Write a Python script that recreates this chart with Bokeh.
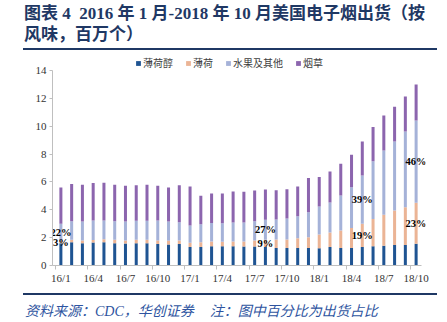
from bokeh.plotting import figure
from bokeh.models import ColumnDataSource, FixedTicker, Div
from bokeh.layouts import column
from bokeh.core.properties import value
from bokeh.embed import file_html
from bokeh.resources import INLINE

months = ["16/1", "16/2", "16/3", "16/4", "16/5", "16/6", "16/7", "16/8", "16/9", "16/10", "16/11", "16/12",
          "17/1", "17/2", "17/3", "17/4", "17/5", "17/6", "17/7", "17/8", "17/9", "17/10", "17/11", "17/12",
          "18/1", "18/2", "18/3", "18/4", "18/5", "18/6", "18/7", "18/8", "18/9", "18/10"]
menthol = [1.60, 1.67, 1.60, 1.65, 1.67, 1.60, 1.58, 1.60, 1.60, 1.55, 1.50, 1.54,
           1.32, 1.32, 1.39, 1.39, 1.39, 1.36, 1.36, 1.32, 1.26, 1.26, 1.26, 1.26,
           1.24, 1.32, 1.26, 1.26, 1.32, 1.39, 1.41, 1.48, 1.48, 1.56]
mint = [0.17, 0.17, 0.20, 0.18, 0.21, 0.24, 0.22, 0.24, 0.24, 0.25, 0.27, 0.26,
        0.31, 0.35, 0.33, 0.31, 0.33, 0.36, 0.44, 0.52, 0.61, 0.61, 0.70, 0.77,
        0.99, 1.05, 1.25, 1.44, 1.67, 1.94, 2.23, 2.47, 2.71, 2.94]
fruit = [1.23, 1.34, 1.36, 1.40, 1.35, 1.34, 1.36, 1.37, 1.37, 1.43, 1.39, 1.31,
         1.24, 1.30, 1.34, 1.34, 1.37, 1.37, 1.38, 1.44, 1.43, 1.50, 1.58, 1.80,
         2.01, 2.15, 2.52, 2.92, 3.47, 4.16, 4.62, 4.95, 5.43, 5.91]
tobacco = [2.60, 2.68, 2.63, 2.70, 2.72, 2.61, 2.56, 2.55, 2.58, 2.49, 2.44, 2.65,
           2.80, 2.03, 2.11, 2.13, 2.22, 2.20, 2.20, 2.17, 2.11, 2.11, 2.13, 2.46,
           2.12, 2.23, 2.27, 2.33, 2.44, 2.46, 2.51, 2.49, 2.51, 2.58]
series_names = ["薄荷醇", "薄荷", "水果及其他", "烟草"]
tick_months = ["16/1", "16/4", "16/7", "16/10", "17/1", "17/4", "17/7", "17/10", "18/1", "18/4", "18/7", "18/10"]
y_ticks = [0, 2, 4, 6, 8, 10, 12, 14]
pct_months = ["16/1", "17/8", "18/5", "18/10"]
fruit_pct = ["22%", "27%", "39%", "46%"]
mint_pct = ["3%", "9%", "19%", "23%"]

title1 = "图表 4&nbsp; 2016 年 1 月-2018 年 10 月美国电子烟出货（按"
title2 = "风味，百万个）"
source_part1 = "资料来源：CDC，华创证券"
source_part2 = "注：图中百分比为出货占比"

colors = ["#1F5492", "#EBB495", "#A5B2D8", "#8C65AE"]
rule_color = "#1F3864"

W = 447
TOP_H = 50
FIG_H = 243
BOT_H = 322 - TOP_H - FIG_H
# axis geometry within the figure (px)
AX_L, AX_R = 55, 421            # x-axis extent (category edges)
FL, FR = 52, 425                # frame slightly wider so edge labels are not clipped
FT, FB = 2, 215
PX_PER_CAT = (AX_R - AX_L) / len(months)
PX_PER_UNIT = (FB - (70 - TOP_H)) / 14.0

source = ColumnDataSource(dict(x=list(range(len(months))), menthol=menthol, mint=mint,
                               fruit=fruit, tobacco=tobacco))

x0 = -0.5 - (AX_L - FL) / PX_PER_CAT
x1 = len(months) - 0.5 + (FR - AX_R) / PX_PER_CAT
y1 = (FB - FT) / PX_PER_UNIT

p = figure(width=W, height=FIG_H, x_range=(x0, x1), y_range=(0, y1),
           output_backend="svg", toolbar_location=None, title=None,
           min_border_left=FL, min_border_right=W - FR, min_border_top=FT, min_border_bottom=FIG_H - FB)
p.outline_line_color = None
p.xgrid.visible = False
p.ygrid.visible = False
p.background_fill_color = "white"
p.border_fill_color = "white"

p.vbar_stack(["menthol", "mint", "fruit", "tobacco"], x="x", width=0.28, color=colors,
             line_width=0, source=source, legend_label=series_names)

# percentage labels
lx, ly, lt = [], [], []
for m, fp, mp in zip(pct_months, fruit_pct, mint_pct):
    i = months.index(m)
    lx += [i, i]
    ly += [menthol[i] + mint[i] + fruit[i] / 2, menthol[i] + mint[i] / 2]
    lt += [fp, mp]
p.text(x=lx, y=ly, text=lt, text_align="center", text_baseline="middle",
       text_font=value("Liberation Serif"), text_font_style="bold", text_font_size="10.5px",
       text_color="black")

# axes
tick_idx = [months.index(m) for m in tick_months]
p.xaxis.ticker = FixedTicker(ticks=tick_idx, minor_ticks=[i - 0.5 for i in tick_idx])
p.xaxis.major_label_overrides = {i: months[i] for i in tick_idx}
p.xaxis.bounds = (x0, len(months) - 0.5)
p.xaxis.major_tick_out = 0
p.xaxis.major_tick_in = 0
p.xaxis.minor_tick_out = 4
p.xaxis.minor_tick_in = 0
p.xaxis.major_label_standoff = 2
p.yaxis.ticker = FixedTicker(ticks=y_ticks, minor_ticks=[])
p.yaxis.bounds = (0, 14)
p.yaxis.major_tick_out = 3
p.yaxis.major_tick_in = 0
p.yaxis.major_label_standoff = 3
for ax in (p.xaxis, p.yaxis):
    ax.axis_line_color = "#BFBFBF"
    ax.major_tick_line_color = "#BFBFBF"
    ax.minor_tick_line_color = "#BFBFBF"
    ax.major_label_text_font = "Liberation Serif"
    ax.major_label_text_font_size = "11px"
    ax.major_label_text_color = "#333333"

# legend
lg = p.legend[0]
lg.orientation = "horizontal"
lg.location = (135 - FL, FB - (70 - TOP_H))
lg.padding = 0
lg.margin = 0
lg.spacing = 12
lg.glyph_width = 6
lg.glyph_height = 6
lg.label_standoff = 2
lg.label_height = 10
lg.label_text_font = "Noto Sans CJK SC"
lg.label_text_font_size = "10px"
lg.label_text_color = "#404040"
lg.border_line_color = None
lg.background_fill_alpha = 0

font_cjk = "'Liberation Serif','Noto Sans CJK SC',serif"
title_html = (
    f'<div style="position:relative;width:{W}px;height:{TOP_H}px;overflow:hidden;">'
    f'<div style="position:absolute;left:24px;top:3px;font-family:{font_cjk};font-weight:bold;'
    f'font-size:17px;line-height:21px;color:{rule_color};white-space:nowrap;">{title1}<br>{title2}</div>'
    f'<div style="position:absolute;left:23px;top:48px;width:414px;height:2px;background:{rule_color};"></div>'
    '</div>'
)
source_html = (
    f'<div style="position:relative;width:{W}px;height:{BOT_H}px;overflow:hidden;">'
    f'<div style="position:absolute;left:23px;top:0px;width:414px;height:2px;background:{rule_color};"></div>'
    f'<div style="position:absolute;left:25px;top:11px;font-family:{font_cjk};font-style:italic;'
    f'font-size:14px;line-height:16px;color:#2E54A0;white-space:nowrap;">{source_part1}'
    f'<span style="margin-left:16px;">{source_part2}</span></div>'
    '</div>'
)
title_div = Div(text=title_html, width=W, height=TOP_H, margin=0)
source_div = Div(text=source_html, width=W, height=BOT_H, margin=0)

layout = column(title_div, p, source_div, spacing=0, margin=0)
open("out.html", "w").write(file_html(layout, INLINE))
